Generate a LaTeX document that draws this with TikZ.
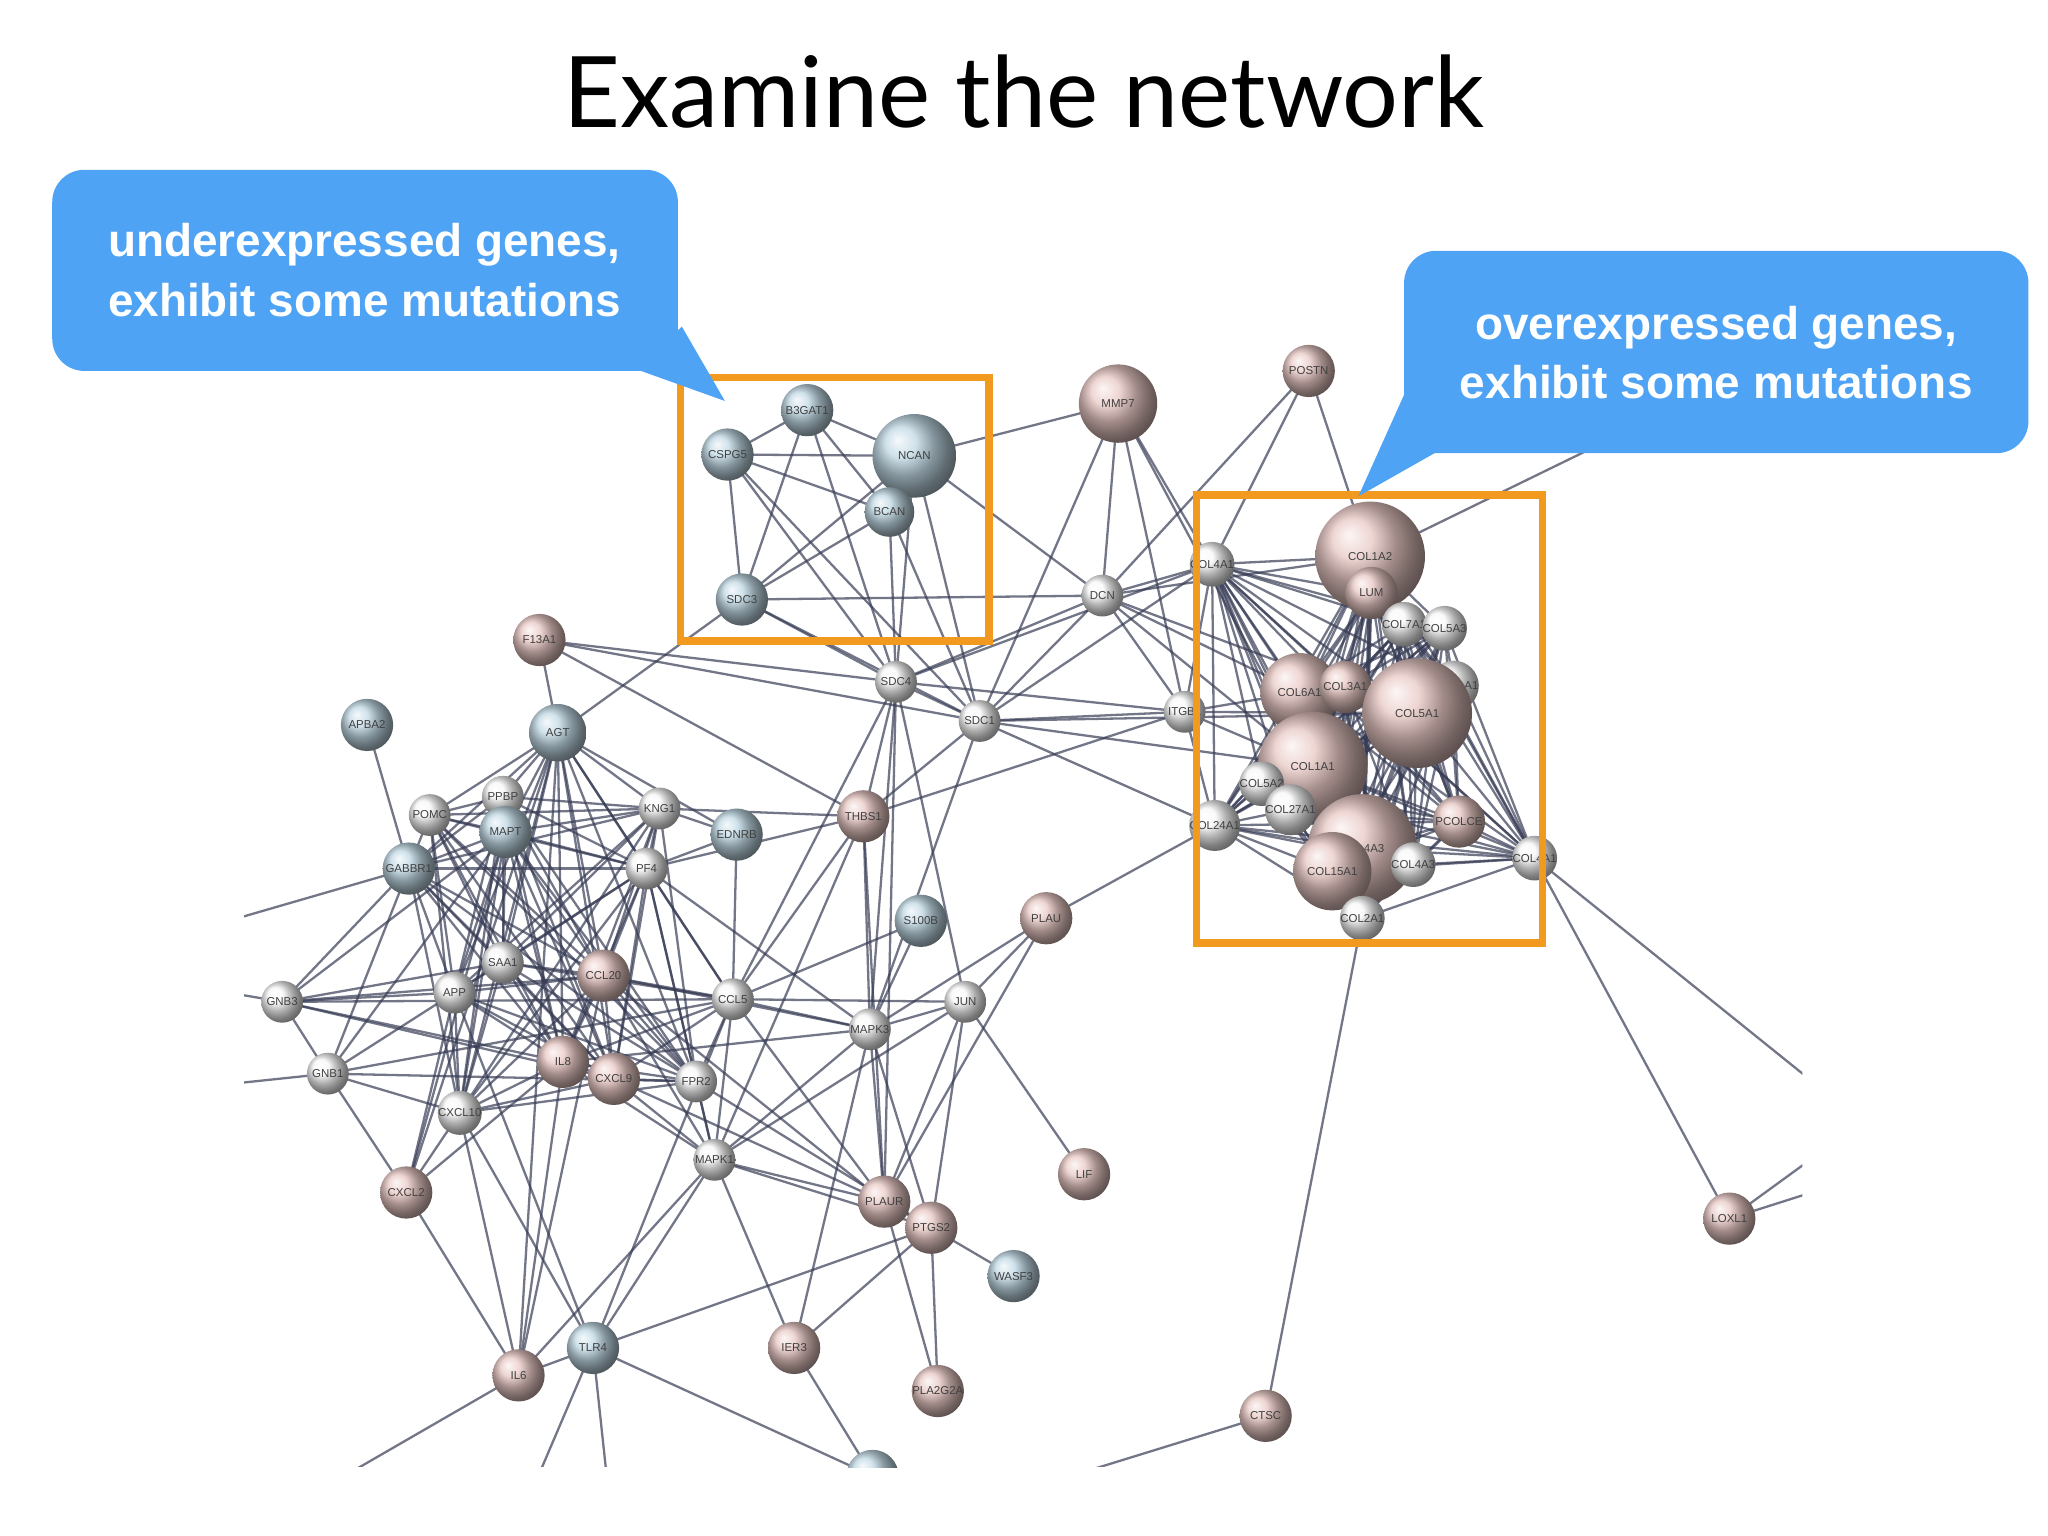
\documentclass[tikz,border=0pt]{standalone}
\usepackage{fontspec}
\setmainfont{Liberation Sans}
\newfontfamily\titlefont{Lato}
\begin{document}
\begin{tikzpicture}[x=0.02cm,y=-0.02cm,
  gn/.style={circle,inner sep=0pt,font=\fontsize{5}{5}\selectfont,text=black!75},
  pk/.style={gn,ball color={rgb,255:red,232;green,200;blue,196}},
  bl/.style={gn,ball color={rgb,255:red,192;green,216;blue,228}},
  wh/.style={gn,ball color=black!3},
  ed/.style={draw={rgb,255:red,55;green,60;blue,85},line width=1pt,opacity=0.7},
  call/.style={fill={rgb,255:red,78;green,163;blue,245},draw=none},
  ctext/.style={text=white,font=\fontsize{20}{26}\selectfont\bfseries,align=center},
  obox/.style={draw={rgb,255:red,242;green,153;blue,31},line width=3.4pt}]
\useasboundingbox (0,0) rectangle (1568,1176);
\fill[white] (0,0) rectangle (1568,1176);
\node (title) at (784,70) {\titlefont\fontsize{43}{50}\selectfont Examine the network};
\def\nodelist{
B3GAT1/618/314/40/bl/B3GAT1, CSPG5/557/348/40/bl/CSPG5, NCAN/700/349/64/bl/NCAN,
BCAN/681/392/38/bl/BCAN, SDC3/568/459/40/bl/SDC3, MMP7/856/309/60/pk/MMP7,
POSTN/1002/284/40/pk/POSTN, DCN/844/456/32/wh/DCN, COL4A/928/432/32/wh/COL4A1,
COL1A2/1049/426/84/pk/COL1A2, LUM/1050/454/40/pk/LUM, COL7A/1075/478/32/wh/COL7A1,
COL5A3/1106/481/32/wh/COL5A3, COL6A/995/530/60/pk/COL6A1, COL3A/1030/526/40/pk/COL3A1,
COL11A1/1113/525/32/wh/COL11A1, COL5A1/1085/546/84/pk/COL5A1, COL1A1/1005/587/84/pk/COL1A1,
COL5A2/966/600/32/wh/COL5A2, COL27A/988/620/32/wh/COL27A1, COL24A1/930/632/32/wh/COL24A1,
A3/1043/650/84/pk/COL4A3, COL15A1/1020/667/60/pk/COL15A1, PCOLCE/1117/629/40/pk/PCOLCE,
COLXA1/1175/657/32/wh/COL4A1, NA3/1082/662/32/wh/COL4A3, COL2A1/1043/703/32/wh/COL2A1,
ITGB/907/545/32/wh/ITGB1, SDC4/686/522/32/wh/SDC4, SDC1/750/552/32/wh/SDC1,
F13A1/413/490/40/pk/F13A1, APBA2/281/555/40/bl/APBA2, AGT/427/561/44/bl/AGT,
PPBP/385/610/32/wh/PPBP, POMC/329/624/32/wh/POMC, MAPT/387/637/40/bl/MAPT,
KNG1/505/619/32/wh/KNG1, EDNRB/564/639/40/bl/EDNRB, THBS1/661/625/40/pk/THBS1,
GABBR1/313/665/40/bl/GABBR1, PF4/495/665/32/wh/PF4, S100B/705/705/40/bl/S100B,
PLAU/801/703/40/pk/PLAU, SAA1/385/737/32/wh/SAA1, CCL20/462/747/40/pk/CCL20,
APP/348/760/32/wh/APP, GNB3/216/767/32/wh/GNB3, CCL5/561/765/32/wh/CCL5,
JUN/739/767/32/wh/JUN, MAPK3/666/788/32/wh/MAPK3, IL8/431/813/40/pk/IL8,
CXCL9/470/826/40/pk/CXCL9, FPR2/533/828/32/wh/FPR2, GNB1/251/822/32/wh/GNB1,
CXCL10/352/852/32/wh/CXCL10, MAPK1/547/888/32/wh/MAPK1, LIF/830/899/40/pk/LIF,
CXCL2/311/913/40/pk/CXCL2, PLAUR/677/920/40/pk/PLAUR, PTGS2/713/940/40/pk/PTGS2,
WASF3/776/977/40/bl/WASF3, LOXL1/1324/933/40/pk/LOXL1, IER3/608/1032/40/pk/IER3,
TLR4/454/1032/40/bl/TLR4, IL6/397/1053/40/pk/IL6, PLA2G2A/718/1065/40/pk/PLA2G2A,
CTSC/969/1084/40/pk/CTSC, BOT/668/1130/40/bl/{}}
\foreach \n/\x/\y/\r/\s/\l in \nodelist
{\coordinate (\n) at (\x,\y);}
\foreach \n/\x/\y in {o1/1215/345, o2/1390/830, o3/1390/885, o4/1390/912, o5/820/1130,
 o6/175/705, o7/175/760, o8/255/1135, o9/410/1135, o10/465/1135, o11/175/830}
 {\coordinate (\n) at (\x,\y);}
\begin{scope}
\clip (187,130) rectangle (1380,1123);
\foreach \a [count=\i] in {COL4A,COL1A2,LUM,COL7A,COL5A3,COL6A,COL3A,COL11A1,COL5A1,COL1A1,COL5A2,COL27A,COL24A1,A3,COL15A1,PCOLCE,COLXA1,NA3,COL2A1}
 {\foreach \b [count=\j] in {COL4A,COL1A2,LUM,COL7A,COL5A3,COL6A,COL3A,COL11A1,COL5A1,COL1A1,COL5A2,COL27A,COL24A1,A3,COL15A1,PCOLCE,COLXA1,NA3,COL2A1}
  {\ifnum\j>\i \draw[ed] (\a) -- (\b);\fi}}
\foreach \a [count=\i] in {AGT,PPBP,POMC,MAPT,GABBR1,PF4,SAA1,CCL20,APP,IL8,CXCL9,CXCL10,KNG1,FPR2}
 {\foreach \b [count=\j] in {AGT,PPBP,POMC,MAPT,GABBR1,PF4,SAA1,CCL20,APP,IL8,CXCL9,CXCL10,KNG1,FPR2}
  {\ifnum\j>\i \draw[ed] (\a) -- (\b);\fi}}
\foreach \a/\b in {B3GAT1/CSPG5,B3GAT1/NCAN,B3GAT1/BCAN,B3GAT1/SDC3,B3GAT1/SDC4,
 CSPG5/NCAN,CSPG5/BCAN,CSPG5/SDC3,CSPG5/SDC4,CSPG5/SDC1,NCAN/BCAN,NCAN/SDC3,NCAN/SDC4,NCAN/SDC1,NCAN/DCN,NCAN/MMP7,
 BCAN/SDC3,BCAN/SDC4,BCAN/SDC1,SDC3/SDC4,SDC3/DCN,SDC3/SDC1,SDC3/AGT,
 MMP7/DCN,MMP7/COL4A,MMP7/SDC1,MMP7/ITGB,MMP7/COL1A1,POSTN/COL1A2,POSTN/DCN,POSTN/COL4A,
 DCN/COL4A,DCN/COL1A2,DCN/COL1A1,DCN/SDC1,DCN/SDC4,DCN/ITGB,DCN/COL5A1,DCN/COL6A,COL1A2/o1,
 ITGB/COL4A,ITGB/COL1A1,ITGB/COL5A1,ITGB/SDC1,ITGB/SDC4,ITGB/COL6A,ITGB/COL24A1,ITGB/THBS1,
 SDC1/SDC4,SDC1/THBS1,SDC1/COL1A1,SDC1/COL4A,SDC1/COL24A1,SDC1/MAPK3,SDC1/F13A1,SDC1/COL5A1,
 SDC4/F13A1,SDC4/THBS1,SDC4/MAPK3,SDC4/JUN,SDC4/PLAUR,SDC4/COL4A,SDC4/CCL5,
 PLAU/COL24A1,PLAU/PLAUR,PLAU/MAPK3,PLAU/JUN,COLXA1/LOXL1,COLXA1/o2,LOXL1/o3,LOXL1/o4,
 COL2A1/CTSC,CTSC/o5,F13A1/THBS1,F13A1/AGT,
 GNB3/GABBR1,GNB3/APP,GNB3/CCL20,GNB3/IL8,GNB3/CXCL9,GNB3/GNB1,GNB3/SAA1,GNB3/CCL5,GNB3/o7,GNB3/MAPT,
 GNB1/GABBR1,GNB1/APP,GNB1/CXCL2,GNB1/CXCL10,GNB1/CCL5,GNB1/FPR2,GNB1/o11,GNB1/MAPT,
 GABBR1/o6,APBA2/GABBR1,CXCL2/CXCL10,CXCL2/IL8,CXCL2/IL6,CXCL2/APP,CXCL2/MAPT,CXCL2/AGT,
 MAPK1/MAPK3,MAPK1/FPR2,MAPK1/CCL5,MAPK1/PLAUR,MAPK1/PTGS2,MAPK1/IER3,MAPK1/TLR4,MAPK1/IL6,
 MAPK1/JUN,MAPK1/THBS1,MAPK1/CXCL9,MAPK1/IL8,MAPK1/CCL20,MAPK1/PF4,
 MAPK3/JUN,MAPK3/THBS1,MAPK3/CCL5,MAPK3/PLAUR,MAPK3/PTGS2,MAPK3/IL8,MAPK3/PF4,MAPK3/CCL20,MAPK3/IER3,MAPK3/S100B,
 JUN/PTGS2,JUN/LIF,JUN/PLAUR,JUN/CCL5,PTGS2/PLAUR,PTGS2/WASF3,PTGS2/PLA2G2A,PTGS2/IER3,PTGS2/TLR4,
 PLAUR/PLA2G2A,PLAUR/CCL5,IL6/TLR4,IL6/CCL20,IL6/o8,IL6/IL8,IL6/AGT,TLR4/o9,TLR4/o10,TLR4/CCL5,TLR4/BOT,IER3/BOT,
 EDNRB/KNG1,EDNRB/AGT,EDNRB/PF4,EDNRB/CCL5,THBS1/CCL5,THBS1/KNG1,THBS1/PLAUR,THBS1/PF4,
 CCL5/PF4,CCL5/IL8,CCL5/CXCL9,CCL5/FPR2,CCL5/AGT,CCL5/CCL20,CCL5/SAA1,S100B/CCL5,
 FPR2/PTGS2,CCL20/PLAUR,CXCL9/PLAUR,CXCL10/IL6,CXCL10/TLR4,APP/TLR4}
 {\draw[ed] (\a) -- (\b);}
\end{scope}
\foreach \n/\x/\y/\r/\s/\l in \nodelist
{\node[\s,minimum size=\r*0.02cm] (n\n) at (\x,\y) {\l};}
\fill[white] (150,1124) rectangle (1400,1176);
\node[obox,minimum width=236*0.02cm,minimum height=202*0.02cm] (boxL) at (639,390) {};
\node[obox,minimum width=265*0.02cm,minimum height=343*0.02cm] (boxR) at (1048.5,550.5) {};
\fill[call,rounded corners=14pt] (40,130) rectangle (519,284);
\fill[call] (488,283) -- (555,307) -- (522,250) -- cycle;
\node[ctext] (tL) at (279,207) {underexpressed genes,\\exhibit some mutations};
\fill[call,rounded corners=14pt] (1075,192) rectangle (1553,347);
\fill[call] (1100,346) -- (1040,380) -- (1076,300) -- cycle;
\node[ctext] (tR) at (1314,270) {overexpressed genes,\\exhibit some mutations};
\end{tikzpicture}
\end{document}
